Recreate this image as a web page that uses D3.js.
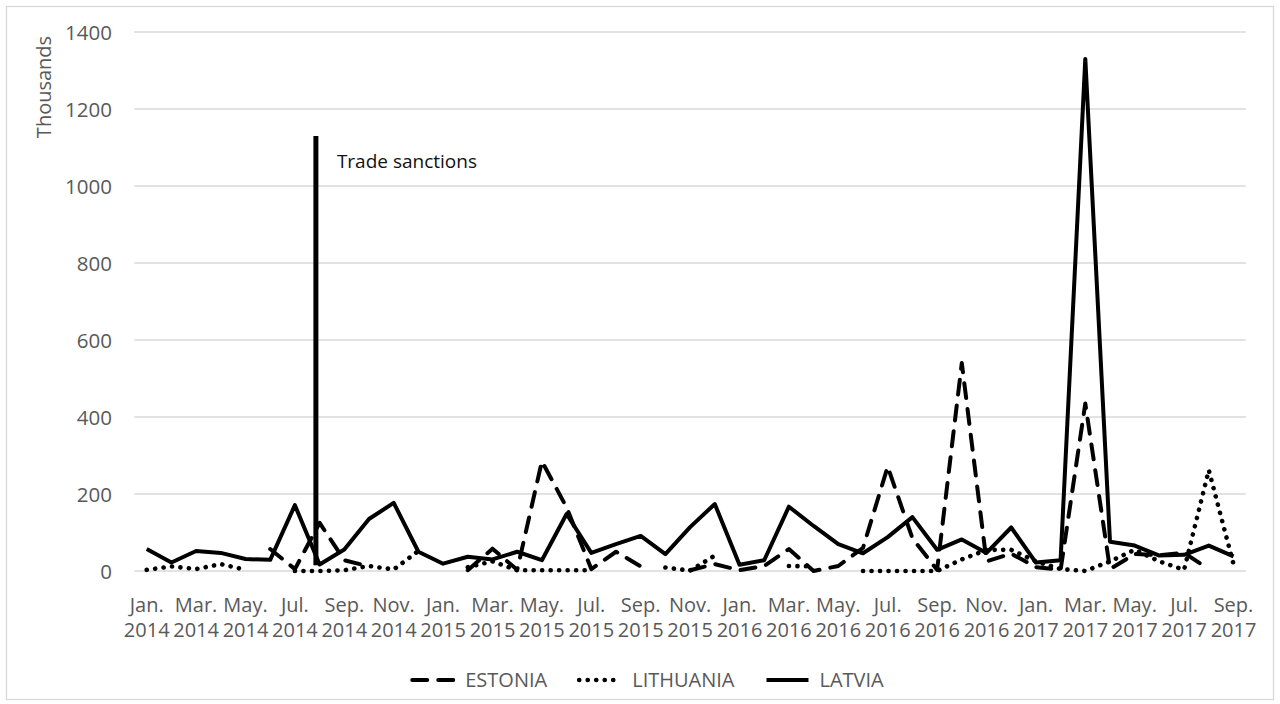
<!DOCTYPE html>
<html>
<head>
<meta charset="utf-8">
<script src="https://cdn.jsdelivr.net/npm/d3@7"></script>
<style>
  html, body { margin: 0; padding: 0; background: #fff; }
  svg { display: block; }
  text { font-family: "Open Sans", "Noto Sans", sans-serif; }
</style>
</head>
<body>
<svg id="chart" width="1280" height="704"></svg>
<script>
// ---------------- DATA ----------------
const months = [
  "Jan. 2014","Feb. 2014","Mar. 2014","Apr. 2014","May. 2014","Jun. 2014","Jul. 2014","Aug. 2014","Sep. 2014","Oct. 2014","Nov. 2014","Dec. 2014",
  "Jan. 2015","Feb. 2015","Mar. 2015","Apr. 2015","May. 2015","Jun. 2015","Jul. 2015","Aug. 2015","Sep. 2015","Oct. 2015","Nov. 2015","Dec. 2015",
  "Jan. 2016","Feb. 2016","Mar. 2016","Apr. 2016","May. 2016","Jun. 2016","Jul. 2016","Aug. 2016","Sep. 2016","Oct. 2016","Nov. 2016","Dec. 2016",
  "Jan. 2017","Feb. 2017","Mar. 2017","Apr. 2017","May. 2017","Jun. 2017","Jul. 2017","Aug. 2017","Sep. 2017"
];
// tick labels shown every second month
const tickLabels = months.filter((m, i) => i % 2 === 0);

const estonia = [
  null, null, null, null, null, 57, 5, 125, 28, 12, null, null,
  null, 2, 58, 3, 285, 165, 5, 50, 12, null, 2, 18,
  2, 13, 57, 0, 13, 60, 271, 85, 3, 540, 25, 45,
  10, 3, 435, 5, 44, 41, 47, 5, null
];
const lithuania = [
  3, 12, 5, 18, 3, null, 0, 0, 2, 13, 4, 52,
  null, 10, 25, 2, 2, 2, 2, null, null, 9, 1, 40,
  null, null, 13, 12, null, 0, 0, 0, 0, 30, 55, 55,
  25, 5, 0, 25, 55, 25, 3, 262, 18
];
const latvia = [
  57, 22, 52, 47, 31, 29, 171, 17, 56, 135, 177, 50,
  19, 37, 30, 50, 28, 148, 47, 70, 91, 44, 114, 174,
  16, 28, 167, 117, 70, 46, 88, 140, 55, 82, 47, 113,
  22, 28, 1330, 76, 66, 40, 42, 66, 38
];
const seriesNames = ["ESTONIA", "LITHUANIA", "LATVIA"];
const yTicks = [0, 200, 400, 600, 800, 1000, 1200, 1400];
const yTitle = "Thousands";
// annotation: position (month index, between Jul and Aug 2014) and vertical extent
const sanctionIndex = 6.85;
const sanctionRange = [15, 1130];
const sanctionText = "Trade sanctions";

// ---------------- LAYOUT ----------------
const plot = { left: 134.35, right: 1245.85, top: 32, bottom: 571 };
const textColor = "#595959";
const gridColor = "#d9d9d9";

const svg = d3.select("#chart");

// chart area border
svg.append("rect")
  .attr("x", 6.5).attr("y", 6.5).attr("width", 1267).attr("height", 693)
  .attr("fill", "#fff").attr("stroke", gridColor).attr("stroke-width", 1.3);

const xBand = d3.scaleBand().domain(months).range([plot.left, plot.right]).padding(0);
const xIdx = d3.scaleLinear().domain([-0.5, months.length - 0.5]).range([plot.left, plot.right]);
const y = d3.scaleLinear().domain([0, 1400]).range([plot.bottom, plot.top]);

// gridlines
svg.append("g").selectAll("line").data(yTicks).join("line")
  .attr("x1", plot.left).attr("x2", plot.right)
  .attr("y1", d => y(d)).attr("y2", d => y(d))
  .attr("stroke", gridColor).attr("stroke-width", 1.5);

// y axis labels
const yAxis = d3.axisLeft(y).tickValues(yTicks).tickFormat(d3.format("d")).tickSize(0).tickPadding(0);
const gy = svg.append("g").attr("transform", `translate(${112},0)`).call(yAxis);
gy.select(".domain").remove();
gy.selectAll("text")
  .attr("fill", textColor).style("font-size", "20.5px")
  .attr("dy", "0.35em");

// y title
svg.append("text")
  .attr("transform", `translate(51, ${87}) rotate(-90)`)
  .attr("text-anchor", "middle")
  .attr("fill", textColor).style("font-size", "20px")
  .text(yTitle);

// x axis labels (two lines)
const xAxis = d3.axisBottom(xBand).tickValues(tickLabels).tickSize(0).tickPadding(0);
const gx = svg.append("g").attr("transform", `translate(0, ${plot.bottom})`).call(xAxis);
gx.select(".domain").remove();
gx.selectAll("text").each(function(d) {
  const parts = d.split(" ");
  const t = d3.select(this).text(null).attr("y", 0).attr("dy", null)
    .attr("fill", textColor).style("font-size", "20px");
  t.append("tspan").attr("x", 0).attr("y", 41).text(parts[0]);
  t.append("tspan").attr("x", 0).attr("y", 66).text(parts[1]);
});

// lines
const xc = (d, i) => xBand(months[i]) + xBand.bandwidth() / 2;
const line = d3.line().defined(d => d != null).x((d, i) => xc(d, i)).y(d => y(d));

const styles = {
  ESTONIA:   { dash: "15,11", cap: "round", width: 4 },
  LITHUANIA: { dash: "0.1,8.4", cap: "round", width: 4.6 },
  LATVIA:    { dash: null, cap: "butt", width: 4 }
};
const seriesData = [estonia, lithuania, latvia];

seriesData.forEach((data, k) => {
  const st = styles[seriesNames[k]];
  svg.append("path")
    .datum(data)
    .attr("d", line)
    .attr("fill", "none")
    .attr("stroke", "#000")
    .attr("stroke-width", st.width)
    .attr("stroke-linejoin", "round")
    .attr("stroke-linecap", st.cap)
    .attr("stroke-dasharray", st.dash);
});

// sanctions annotation
svg.append("line")
  .attr("x1", xIdx(sanctionIndex)).attr("x2", xIdx(sanctionIndex))
  .attr("y1", y(sanctionRange[0])).attr("y2", y(sanctionRange[1]))
  .attr("stroke", "#000").attr("stroke-width", 5);
svg.append("text")
  .attr("x", xIdx(sanctionIndex) + 21).attr("y", 168)
  .attr("fill", "#111").style("font-size", "19px")
  .text(sanctionText);

// legend
const legend = svg.append("g");
const symLen = 46, symGap = 9, itemGap = 30;
const items = [];
seriesNames.forEach((name, k) => {
  const st = styles[name];
  const g = legend.append("g");
  g.append("line")
    .attr("x1", 2).attr("x2", symLen - 2).attr("y1", 0).attr("y2", 0)
    .attr("stroke", "#000").attr("stroke-width", st.width)
    .attr("stroke-linecap", st.cap)
    .attr("stroke-dasharray", st.dash);
  const t = g.append("text")
    .attr("x", symLen + symGap).attr("y", 0).attr("dy", "0.35em")
    .attr("fill", textColor).style("font-size", "20px")
    .text(name);
  const w = symLen + symGap + t.node().getComputedTextLength();
  items.push({ g, w });
});
const total = d3.sum(items, d => d.w) + itemGap * (items.length - 1);
let x0 = 647 - total / 2;
items.forEach(it => {
  it.g.attr("transform", `translate(${x0}, 680)`);
  x0 += it.w + itemGap;
});
</script>
</body>
</html>
